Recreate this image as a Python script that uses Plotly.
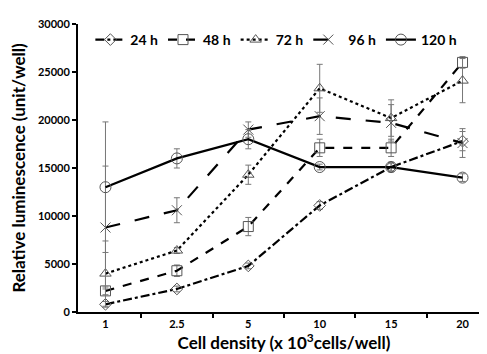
import plotly.graph_objects as go

densities = ["1", "2.5", "5", "10", "15", "20"]
series_names = ["24 h", "48 h", "72 h", "96 h", "120 h"]
v24 = [800, 2400, 4800, 11100, 15100, 17800]
e24 = [300, 300, 300, 400, 500, 1000]
v48 = [2200, 4300, 8900, 17100, 17100, 26000]
e48 = [400, 600, 950, 900, 900, 600]
v72 = [4000, 6400, 14300, 23300, 20200, 24100]
e72 = [3400, 300, 1000, 2500, 1900, 2300]
v96 = [8800, 10600, 19000, 20400, 19700, 17600]
e96 = [6400, 1300, 800, 1900, 1900, 1500]
v120 = [13000, 16000, 18000, 15100, 15100, 14000]
e120 = [6800, 1000, 1000, 300, 400, 400]

values = [v24, v48, v72, v96, v120]
errors = [e24, e48, e72, e96, e120]
dashes = ["dashdot", "dash", "dot", "longdash", "solid"]
symbols = ["diamond-open", "square-open", "triangle-up-open", "x-thin-open", "circle-open"]
sizes = [9, 10, 10, 10, 11]

fig = go.Figure()
for name, v, e, d, s, sz in zip(series_names, values, errors, dashes, symbols, sizes):
    fig.add_trace(go.Scatter(
        x=densities, y=v, name=name, mode="lines+markers",
        line=dict(color="black", width=2.2, dash=d),
        marker=dict(symbol=s, size=sz, color="#555555",
                    line=dict(color="#555555", width=1)),
        error_y=dict(type="data", array=e, visible=True, color="#777777",
                     thickness=1, width=3),
    ))

font = "Lato, 'Open Sans', sans-serif"
fig.update_layout(
    width=487, height=354,
    margin=dict(l=70, r=5, t=16, b=50),
    paper_bgcolor="white", plot_bgcolor="white",
    font=dict(family=font, color="black"),
    showlegend=True,
    legend=dict(orientation="h", x=0.03, y=1.0, xanchor="left", yanchor="top",
                font=dict(size=14, family=font, weight="bold"),
                bgcolor="rgba(0,0,0,0)", itemwidth=30, tracegroupgap=0),
    xaxis=dict(type="category", tickson="boundaries", ticks="outside", ticklen=4,
               tickwidth=1.5, tickcolor="black", showline=True, linecolor="black",
               linewidth=2, showgrid=False, ticklabelstandoff=1,
               tickfont=dict(size=11, weight="bold"),
               title=dict(text="Cell density (x 10<sup>3</sup>cells/well)",
                          font=dict(size=17, weight="bold"), standoff=0)),
    yaxis=dict(range=[0, 30000], dtick=5000, tickformat="d", ticks="outside", ticklen=4,
               tickwidth=1.5, tickcolor="black", showline=True, linecolor="black",
               linewidth=2, showgrid=False, zeroline=False,
               tickfont=dict(size=11, weight="bold"),
               title=dict(text="Relative luminescence (unit/well)",
                          font=dict(size=17, weight="bold"), standoff=10)),
)

fig.write_html("out.html")
